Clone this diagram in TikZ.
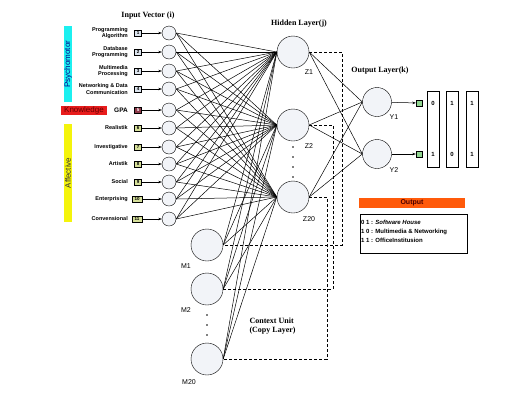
\documentclass[tikz,border=0pt]{standalone}
\usepackage{fontspec}
\setmainfont{Liberation Sans}
\newfontfamily\headfont{Liberation Serif}
\usetikzlibrary{arrows.meta}
\definecolor{psyblue}{HTML}{DCE4EE}
\definecolor{affgreen}{HTML}{D6E09A}
\definecolor{gpared}{HTML}{8E3A4A}
\definecolor{barcyan}{HTML}{1CF0F0}
\definecolor{barred}{HTML}{E81C1C}
\definecolor{baryellow}{HTML}{F4F40C}
\definecolor{outorange}{HTML}{FF5A0A}
\definecolor{unitfill}{HTML}{F2F4F8}
\tikzset{
  inunit/.style={draw,circle,minimum size=14pt,inner sep=0pt,fill=unitfill},
  bigunit/.style={draw,circle,minimum size=32pt,inner sep=0pt,fill=unitfill},
  outunit/.style={draw,circle,minimum size=29pt,inner sep=0pt,fill=unitfill},
  numbox/.style={draw,minimum width=7pt,minimum height=6pt,inner sep=0.5pt,font=\fontsize{4.5}{5}\selectfont\bfseries},
  inlabel/.style={anchor=east,align=right,inner sep=0pt,font=\fontsize{5.5}{6.5}\selectfont\bfseries},
  title/.style={font=\fontsize{8}{9}\selectfont\headfont\bfseries},
  unitlabel/.style={font=\fontsize{7}{8}\selectfont},
  wire/.style={line width=0.5pt},
  copyline/.style={dashed,line width=0.6pt,dash pattern=on 3pt off 2pt},
  tip/.style={-{Stealth[length=3.5pt,width=2.5pt]},line width=0.5pt},
}
\begin{document}
\begin{tikzpicture}[x=1pt,y=-1pt]
\useasboundingbox (0,0) rectangle (513,400);

% titles
\node[title] (tin) at (148,16) {Input Vector (i)};
\node[title] (thid) at (299,24) {Hidden Layer(j)};
\node[title] (tout) at (380,71) {Output Layer(k)};

% groups of inputs
\fill[barcyan] (64,26) rectangle (72,102);
\node[rotate=90,text=blue!55!black,font=\fontsize{8}{9}\selectfont] (psy) at (68,64) {Psychomotor};
\fill[barred] (61,106) rectangle (107,115);
\node[text=red!40!black,font=\fontsize{8}{9}\selectfont] (know) at (84,110.5) {Knowledge};
\fill[baryellow] (64,124) rectangle (72,222);
\node[rotate=90,text=black!80,font=\fontsize{8}{9}\selectfont] (aff) at (68,173) {Affective};

% input labels
\node[inlabel] (l1) at (128,33) {Programming\\Algorithm};
\node[inlabel] (l2) at (128,52) {Database\\Programming};
\node[inlabel] (l3) at (128,71) {Multimedia\\Processing};
\node[inlabel] (l4) at (128,89) {Networking \& Data\\Communication};
\node[inlabel,font=\fontsize{6.5}{7}\selectfont\bfseries] (l5) at (128,110) {GPA};
\node[inlabel] (l6) at (128,128) {Realistik};
\node[inlabel] (l7) at (128,147) {Investigative};
\node[inlabel] (l8) at (128,164) {Artistik};
\node[inlabel] (l9) at (128,182) {Social};
\node[inlabel] (l10) at (128,199) {Enterprising};
\node[inlabel] (l11) at (128,219) {Convensional};

% input boxes
\node[numbox,fill=psyblue] (b1) at (138,33) {1};
\node[numbox,fill=psyblue] (b2) at (138,52) {2};
\node[numbox,fill=psyblue] (b3) at (138,71) {3};
\node[numbox,fill=psyblue] (b4) at (138,89) {4};
\node[numbox,fill=gpared,text=white] (b5) at (138,110) {5};
\node[numbox,fill=affgreen] (b6) at (138,128) {6};
\node[numbox,fill=affgreen] (b7) at (138,147) {7};
\node[numbox,fill=affgreen] (b8) at (138,164) {8};
\node[numbox,fill=affgreen] (b9) at (138,182) {9};
\node[numbox,fill=affgreen,minimum width=10pt] (b10) at (137,199) {10};
\node[numbox,fill=affgreen,minimum width=10pt] (b11) at (137,219) {11};

% input units
\foreach \k/\y in {1/33,2/52,3/71,4/89,5/110,6/128,7/147,8/164,9/182,10/199,11/219}
  \node[inunit] (i\k) at (169,\y) {};

% hidden, context and output units
\node[bigunit] (z1) at (293,52) {};
\node[bigunit] (z2) at (293,125) {};
\node[bigunit] (z20) at (293,197) {};
\node[unitlabel] (lz1) at (309,72) {Z1};
\node[unitlabel] (lz2) at (309,146) {Z2};
\node[unitlabel] (lz20) at (309,219) {Z20};
\foreach \y in {147,157,167,177}
  \fill (293,\y) circle (0.8pt);

\node[bigunit] (m1) at (207,245) {};
\node[bigunit] (m2) at (207,289) {};
\node[bigunit] (m20) at (207,359) {};
\node[unitlabel] (lm1) at (186,266) {M1};
\node[unitlabel] (lm2) at (186,310) {M2};
\node[unitlabel] (lm20) at (189,382) {M20};
\foreach \y in {315,325,335}
  \fill (207,\y) circle (0.8pt);

\node[outunit] (y1) at (377,102) {};
\node[outunit] (y2) at (377,154) {};
\node[unitlabel] (ly1) at (394,117) {Y1};
\node[unitlabel] (ly2) at (394,170) {Y2};

% connections
\foreach \k in {1,...,11} {
  \draw[tip] (b\k) -- (i\k);
  \foreach \j in {z1,z2,z20}
    \draw[wire] (i\k.east) -- (\j.west);
}
\foreach \m in {m1,m2,m20}
  \foreach \j in {z1,z2,z20}
    \draw[wire] (\m.east) -- (\j.west);
\foreach \j in {z1,z2,z20}
  \foreach \o in {y1,y2}
    \draw[wire] (\j.east) -- (\o.west);

% copy to context
\draw[copyline] (z1.east) -- ++(33,0) |- (m1.east);
\draw[copyline] (z2.east) -- ++(24,0) |- (m2.east);
\draw[copyline] (z20.east) -- ++(18,0) |- (m20.east);

% output targets
\node[draw,fill=green!45!gray!60,minimum size=6pt,inner sep=0pt] (t1) at (419,103) {};
\node[draw,fill=green!45!gray!60,minimum size=6pt,inner sep=0pt] (t2) at (419,154) {};
\draw[tip] (y1) -- (t1);
\draw[tip] (y2) -- (t2);

\draw[line width=0.6pt] (427,91) rectangle (439,167);
\draw[line width=0.6pt] (446,91) rectangle (458,167);
\draw[line width=0.6pt] (466,91) rectangle (478,167);
\begin{scope}[font=\fontsize{6}{7}\selectfont\bfseries]
\node (c11) at (433,103) {0};
\node (c12) at (433,154) {1};
\node (c21) at (452,103) {1};
\node (c22) at (452,154) {0};
\node (c31) at (472,103) {1};
\node (c32) at (472,154) {1};
\end{scope}

% legend
\fill[outorange] (359,198) rectangle (465,208);
\node[font=\fontsize{7}{8}\selectfont\bfseries,text=red!30!black] (hout) at (412,203) {Output};
\draw[line width=0.6pt] (360,214) rectangle (467,253);
\node[anchor=north west,align=left,inner sep=0pt,font=\fontsize{6}{9}\selectfont\bfseries] (leg) at (361,220)
  {0 1 : \textit{Software House}\\1 0 : Multimedia \& Networking\\1 1 : OfficeInstitusion};

\node[title,align=left,anchor=west] (ctx) at (246,326) {Context Unit\\(Copy Layer)};
\end{tikzpicture}
\end{document}
